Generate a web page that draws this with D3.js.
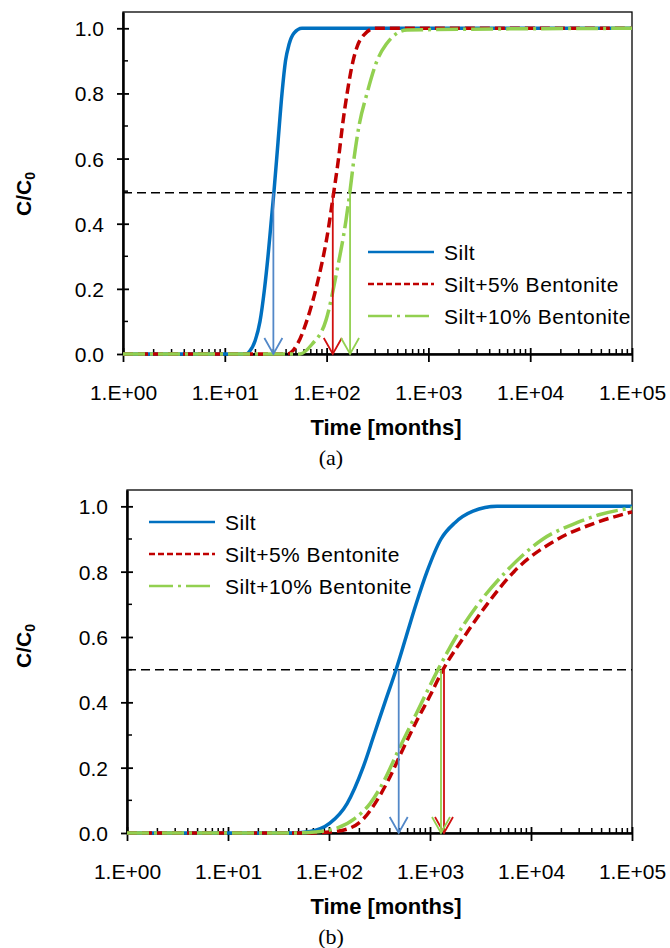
<!DOCTYPE html>
<html>
<head>
<meta charset="utf-8">
<script src="https://cdn.jsdelivr.net/npm/d3@7"></script>
<style>
  body { margin: 0; background: #fff; }
  text { font-family: "Liberation Sans", Arial, sans-serif; }
</style>
</head>
<body>
<div class="area"></div>
<script>
// axis ticks
var xTicks = [1, 10, 100, 1000, 10000, 100000];
var xTickLabels = ["1.E+00", "1.E+01", "1.E+02", "1.E+03", "1.E+04", "1.E+05"];
var yTicks = [0, 0.2, 0.4, 0.6, 0.8, 1.0];
var yTickLabels = ["0.0", "0.2", "0.4", "0.6", "0.8", "1.0"];
var seriesNames = ["Silt", "Silt+5% Bentonite", "Silt+10% Bentonite"];

// panel (a) - time in months, C/C0
var timeA_silt = [1, 14, 16.16, 17.68, 19.81, 22.17, 24.55, 26.57, 28.43, 30.43, 33.31, 36.47, 39.48, 42.72, 47.84, 57.33, 100000];
var concA_silt = [0, 0, 0, 0.01, 0.04, 0.1, 0.2, 0.3, 0.4, 0.5, 0.65, 0.8, 0.9, 0.95, 0.985, 1.0, 1.0];
var timeA_b5 = [1, 36, 40.8, 52.4, 64.2, 82.3, 101, 118, 131, 143, 159, 182, 203, 233, 299, 100000];
var concA_b5 = [0, 0, 0, 0.034, 0.104, 0.226, 0.36, 0.5, 0.6, 0.7, 0.8, 0.9, 0.95, 0.98, 1.0, 1.0];
var timeA_b10 = [1, 48, 54.8, 71.9, 98.7, 126.6, 155, 169.8, 185.9, 208, 249.4, 312.7, 383.3, 616.4, 100000];
var concA_b10 = [0, 0, 0, 0.03, 0.104, 0.257, 0.41, 0.5, 0.6, 0.7, 0.8, 0.9, 0.95, 0.995, 1.0];
var arrowsA = [30, 115, 170];
var levelA = 0.495;

// panel (b)
var timeB_silt = [1, 40, 65, 102, 151, 217, 279, 358, 461, 579, 727, 934, 1285, 1768, 2666, 4607, 100000];
var concB_silt = [0, 0, 0.005, 0.03, 0.09, 0.2, 0.3, 0.4, 0.5, 0.6, 0.7, 0.8, 0.9, 0.95, 0.985, 1.0, 1.0];
var timeB_b5 = [1, 60, 102, 161, 222, 285, 384, 516, 743, 1000, 1345, 2171, 3667, 6786, 18510, 44020, 100000];
var concB_b5 = [0, 0, 0.003, 0.015, 0.045, 0.09, 0.16, 0.244, 0.345, 0.42, 0.5, 0.6, 0.7, 0.8, 0.9, 0.95, 0.983];
var timeB_b10 = [1, 45, 72.7, 120, 181, 255, 351, 471, 679, 892, 1200, 1808, 2986, 5654, 13150, 28510, 48200, 100000];
var concB_b10 = [0, 0, 0.003, 0.015, 0.045, 0.09, 0.16, 0.244, 0.345, 0.42, 0.5, 0.6, 0.7, 0.8, 0.9, 0.95, 0.975, 0.995];
var arrowsB = [490, 1376, 1285];
var levelB = 0.5;

var colors = ["#0070c0", "#c00000", "#92d050"];
var arrowColors = ["#5388c8", "#d01010", "#92d050"];
var dashes = [null, "10,5", "22,5,3,5"];
var legendDashes = [null, "6,3", "24,5,3,5"];

var svg = d3.select(".area")
    .append("svg")
    .attr("width", 670)
    .attr("height", 948);

function zip(t, c) {
    return t.map(function (d, i) { return [d, c[i]]; });
}

function drawPanel(p) {
    var x = d3.scaleLog().domain([1, 100000]).range([p.left, p.right]);
    var y = d3.scaleLinear().domain([0, 1.05]).range([p.bottom, p.top]);
    var g = svg.append("g");

    // frame
    g.append("rect")
        .attr("x", x(1)).attr("y", y(1.05))
        .attr("width", x(100000) - x(1)).attr("height", y(0) - y(1.05))
        .attr("fill", "none").attr("stroke", "black").attr("stroke-width", 1.3);

    // minor x ticks (inside)
    var minors = [];
    xTicks.slice(0, -1).forEach(function (d) {
        for (var k = 2; k <= 9; k++) minors.push(d * k);
    });
    g.selectAll(".mx").data(minors).enter().append("line")
        .attr("x1", function (d) { return x(d); }).attr("x2", function (d) { return x(d); })
        .attr("y1", y(0)).attr("y2", y(0) - 5)
        .attr("stroke", "black").attr("stroke-width", 1.5);

    // minor y ticks
    var yMinors = yTicks.slice(0, -1).map(function (d) { return d + 0.1; });
    g.selectAll(".my").data(yMinors).enter().append("line")
        .attr("x1", x(1)).attr("x2", x(1) + 5)
        .attr("y1", function (d) { return y(d); }).attr("y2", function (d) { return y(d); })
        .attr("stroke", "black").attr("stroke-width", 1.5);

    // x axis
    var xAxis = g.append("g")
        .attr("transform", "translate(0," + y(0) + ")")
        .call(d3.axisBottom(x).tickValues(xTicks)
            .tickFormat(function (d, i) { return xTickLabels[i]; })
            .tickSizeOuter(0));
    xAxis.select(".domain").attr("stroke-width", 2.5);
    xAxis.selectAll(".tick line").attr("y1", -6).attr("y2", 8).attr("stroke-width", 1.8);
    xAxis.selectAll(".tick text").attr("y", 0).attr("dy", 46)
        .style("font-size", "21px").attr("fill", "black")
        .style("font-family", "'Liberation Sans', Arial, sans-serif");

    // y axis
    var yAxis = g.append("g")
        .attr("transform", "translate(" + x(1) + ",0)")
        .call(d3.axisLeft(y).tickValues(yTicks)
            .tickFormat(function (d, i) { return yTickLabels[i]; })
            .tickSizeOuter(0));
    yAxis.select(".domain").attr("stroke-width", 2.5);
    yAxis.selectAll(".tick line").attr("x1", -6).attr("x2", 6).attr("stroke-width", 1.8);
    yAxis.selectAll(".tick text").attr("x", -19).attr("dy", "0.36em")
        .style("font-size", "21px").attr("fill", "black")
        .style("font-family", "'Liberation Sans', Arial, sans-serif");

    // 50% line
    g.append("line")
        .attr("x1", x(1)).attr("x2", x(100000))
        .attr("y1", y(p.level)).attr("y2", y(p.level))
        .attr("stroke", "black").attr("stroke-width", 1.5)
        .attr("stroke-dasharray", "9,5");

    // curves
    var line = d3.line()
        .x(function (d) { return x(d[0]); })
        .y(function (d) { return y(d[1]); })
        .curve(d3.curveMonotoneX);
    p.series.forEach(function (s, i) {
        g.append("path")
            .attr("d", line(s))
            .attr("fill", "none")
            .attr("stroke", colors[i])
            .attr("stroke-width", 3.5)
            .attr("stroke-dasharray", dashes[i]);
    });

    // arrows
    p.arrows.forEach(function (t, i) {
        var ax = x(t);
        g.append("line")
            .attr("x1", ax).attr("x2", ax)
            .attr("y1", y(p.level)).attr("y2", y(0))
            .attr("stroke", arrowColors[i]).attr("stroke-width", 1.8);
        g.append("path")
            .attr("d", "M" + (ax - 9) + "," + (y(0) - 16) + "L" + ax + "," + y(0) + "L" + (ax + 9) + "," + (y(0) - 16))
            .attr("fill", "none")
            .attr("stroke", arrowColors[i]).attr("stroke-width", 1.8);
    });

    // legend
    seriesNames.forEach(function (name, i) {
        var ly = p.legendY + i * 32;
        g.append("line")
            .attr("x1", p.legendX).attr("x2", p.legendX + 66)
            .attr("y1", ly).attr("y2", ly)
            .attr("stroke", colors[i]).attr("stroke-width", 2.5)
            .attr("stroke-dasharray", legendDashes[i]);
        g.append("text")
            .attr("x", p.legendX + 76).attr("y", ly).attr("dy", "0.36em")
            .text(name)
            .style("font-size", "21px").style("letter-spacing", "0.5px").attr("fill", "black");
    });

    // axis titles
    g.append("text")
        .attr("x", 386).attr("y", y(0) + 81)
        .attr("text-anchor", "middle")
        .style("font-size", "22px").style("font-weight", "bold")
        .text("Time [months]");

    var yl = g.append("text")
        .attr("transform", "translate(31," + p.yLabelY + ") rotate(-90)")
        .attr("text-anchor", "middle")
        .style("font-size", "21px").style("font-weight", "bold");
    yl.append("tspan").text("C/C");
    yl.append("tspan").text("0").style("font-size", "14px").attr("dy", 4);

    g.append("text")
        .attr("x", 331).attr("y", y(0) + 111)
        .attr("text-anchor", "middle")
        .style("font-family", "'Liberation Serif', 'Times New Roman', serif")
        .style("font-size", "22px")
        .text(p.caption);
}

drawPanel({
    left: 123, right: 632, top: 12, bottom: 354,
    level: levelA, arrows: arrowsA,
    series: [zip(timeA_silt, concA_silt), zip(timeA_b5, concA_b5), zip(timeA_b10, concA_b10)],
    legendX: 368, legendY: 252, yLabelY: 194, caption: "(a)"
});

drawPanel({
    left: 127, right: 632, top: 490, bottom: 833,
    level: levelB, arrows: arrowsB,
    series: [zip(timeB_silt, concB_silt), zip(timeB_b5, concB_b5), zip(timeB_b10, concB_b10)],
    legendX: 149, legendY: 522, yLabelY: 646, caption: "(b)"
});
</script>
</body>
</html>
